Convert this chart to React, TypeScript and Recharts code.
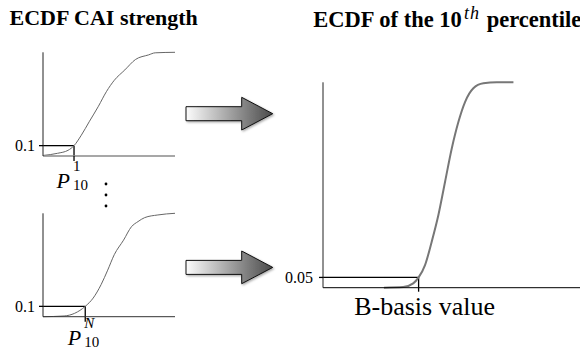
import React from 'react';
import { LineChart, Line, XAxis, YAxis, ReferenceLine } from 'recharts';

const SERIF = '"Liberation Serif", "Times New Roman", serif';

// ECDF of CAI strength, first batch (strength in arbitrary units, 0..100)
const strengthFirst = [0, 11, 19, 23.5, 29, 35, 42, 48, 54, 62, 70, 80, 85, 100];
const ecdfFirst = [0.005, 0.026, 0.055, 0.1, 0.2, 0.33, 0.48, 0.62, 0.73, 0.83, 0.93, 0.975, 0.995, 1];
const p10First = 23.5;

// ECDF of CAI strength, N-th batch
const strengthLast = [0, 16, 24, 32, 38, 44, 49, 54, 61, 67, 72, 77, 87, 100];
const ecdfLast = [0, 0.007, 0.033, 0.1, 0.18, 0.31, 0.45, 0.6, 0.74, 0.87, 0.92, 0.958, 0.984, 1];
const p10Last = 32;

// ECDF of the 10th percentile estimates
const percentileValues = [23.7, 31.2, 35.1, 37.2, 39.7, 42.3, 44.9, 47.5, 50.1, 52.7, 55.3, 58.5, 62.4, 67.6, 74.1];
const ecdfPercentile = [0, 0.003, 0.021, 0.05, 0.11, 0.224, 0.354, 0.516, 0.678, 0.808, 0.905, 0.971, 0.995, 1, 1];
const bBasisValue = 37.2;

const strengthLevel = 0.1;
const bBasisLevel = 0.05;

const leftTitle = 'ECDF CAI strength';

const toRows = (xs: number[], ys: number[]) => xs.map((x, i) => ({ x, p: ys[i] }));

const rowsFirst = toRows(strengthFirst, ecdfFirst);
const rowsLast = toRows(strengthLast, ecdfLast);
const rowsPercentile = toRows(percentileValues, ecdfPercentile);

// P_{10}^{sup} label drawn under the x-axis tick
const percentileTick = (sup: string, dyP: number, italicSup: boolean) => (props: any) => {
  const { x, y } = props;
  return (
    <g>
      <text x={x - 17.5} y={y + dyP} fontFamily={SERIF} fontStyle="italic" fontSize={22} fill="#000">P</text>
      <text x={x - 1} y={y + dyP - 17} fontFamily={SERIF} fontStyle={italicSup ? 'italic' : 'normal'} fontSize={15} fill="#000">{sup}</text>
      <text x={x - 1} y={y + dyP + 2} fontFamily={SERIF} fontSize={15} fill="#000">10</text>
    </g>
  );
};

const bBasisTick = (props: any) => (
  <text x={props.x + 6} y={props.y + 21} textAnchor="middle" fontFamily={SERIF} fontSize={26} fill="#000">
    B-basis value
  </text>
);

const yTickStyle = { fill: '#000', fontSize: 16, fontFamily: SERIF };

type PanelProps = {
  rows: { x: number; p: number }[];
  p10: number;
  level: number;
  width: number;
  height: number;
  top: number;
  right: number;
  xAxisHeight: number;
  xAxisColor: string;
  xAxisWidth: number;
  tick: (props: any) => React.ReactElement;
  tickSize: number;
  yTickMargin: number;
  curveColor: string;
  curveWidth: number;
};

function EcdfPanel(p: PanelProps) {
  return (
    <LineChart
      width={p.width}
      height={p.height}
      data={p.rows}
      margin={{ top: p.top, right: p.right, bottom: 0, left: 3 }}
    >
      <XAxis
        dataKey="x"
        type="number"
        domain={[0, 100]}
        allowDataOverflow
        ticks={[p.p10]}
        interval={0}
        height={p.xAxisHeight}
        axisLine={{ stroke: p.xAxisColor, strokeWidth: p.xAxisWidth }}
        tickLine={{ stroke: '#000', strokeWidth: 1.3 }}
        tickSize={p.tickSize}
        tick={p.tick}
      />
      <YAxis
        type="number"
        domain={[0, 1]}
        ticks={[p.level]}
        interval={0}
        width={40}
        axisLine={{ stroke: '#222', strokeWidth: 1 }}
        tickLine={{ stroke: '#000', strokeWidth: 1.3 }}
        tickSize={4}
        tickMargin={p.yTickMargin}
        tick={yTickStyle}
        tickFormatter={(v: number) => String(v)}
      />
      <ReferenceLine
        segment={[{ x: 0, y: p.level }, { x: p.p10, y: p.level }]}
        stroke="#000"
        strokeWidth={1.3}
      />
      <ReferenceLine
        segment={[{ x: p.p10, y: 0 }, { x: p.p10, y: p.level }]}
        stroke="#000"
        strokeWidth={1.3}
      />
      <Line
        dataKey="p"
        type="monotone"
        stroke={p.curveColor}
        strokeWidth={p.curveWidth}
        dot={false}
        activeDot={false}
        isAnimationActive={false}
      />
    </LineChart>
  );
}

// Block arrow pointing from the batch ECDFs to the percentile ECDF
function BlockArrow({ dy }: { dy: number }) {
  const d = `M186,${106.7 + dy} L241.7,${106.7 + dy} L241.7,${97.3 + dy} L272.7,${113.7 + dy} L241.7,${130 + dy} L241.7,${120.7 + dy} L186,${120.7 + dy} Z`;
  return <path d={d} fill="url(#arrowFill)" stroke="#111" strokeWidth={1} filter="url(#arrowShadow)" />;
}

export default function App() {
  return (
    <div style={{ position: 'absolute', left: 0, top: 0, width: 580, height: 349, background: '#fff', overflow: 'hidden' }}>
      <svg width={580} height={349} style={{ position: 'absolute', left: 0, top: 0 }}>
        <defs>
          <linearGradient id="arrowFill" x1="0" y1="0" x2="1" y2="0">
            <stop offset="0" stopColor="#fcfcfc" />
            <stop offset="1" stopColor="#4a4a4a" />
          </linearGradient>
          <filter id="arrowShadow" x="-10%" y="-20%" width="130%" height="150%">
            <feDropShadow dx="1.2" dy="1.2" stdDeviation="0.8" floodColor="#000" floodOpacity="0.35" />
          </filter>
        </defs>
        <text x={9.5} y={24.5} fontFamily={SERIF} fontWeight="bold" fontSize={22} fill="#000">{leftTitle}</text>
        <text x={313.3} y={27.3} fontFamily={SERIF} fontWeight="bold" fontSize={22.5} fill="#000">ECDF of the 10</text>
        <text x={464} y={18.5} fontFamily={SERIF} fontStyle="italic" fontSize={18} letterSpacing={1} fill="#000">th</text>
        <text x={486.7} y={27.3} fontFamily={SERIF} fontWeight="bold" fontSize={22.5} fill="#000">percentile</text>
        <BlockArrow dy={0} />
        <BlockArrow dy={153.7} />
        <circle cx={106} cy={184} r={1.4} fill="#000" />
        <circle cx={106} cy={195} r={1.4} fill="#000" />
        <circle cx={106} cy={206} r={1.4} fill="#000" />
      </svg>

      <div style={{ position: 'absolute', left: 0, top: 40 }}>
        <EcdfPanel
          rows={rowsFirst}
          p10={p10First}
          level={strengthLevel}
          width={185}
          height={156}
          top={12.3}
          right={10}
          xAxisHeight={40}
          xAxisColor="#8a8a8a"
          xAxisWidth={1.6}
          tick={percentileTick('1', 25, false)}
          tickSize={5}
          yTickMargin={4}
          curveColor="#666"
          curveWidth={1}
        />
      </div>

      <div style={{ position: 'absolute', left: 0, top: 200 }}>
        <EcdfPanel
          rows={rowsLast}
          p10={p10Last}
          level={strengthLevel}
          width={185}
          height={149}
          top={13.3}
          right={10}
          xAxisHeight={32.3}
          xAxisColor="#333"
          xAxisWidth={1}
          tick={percentileTick('N', 21, true)}
          tickSize={5}
          yTickMargin={4}
          curveColor="#666"
          curveWidth={1}
        />
      </div>

      <div style={{ position: 'absolute', left: 280, top: 70 }}>
        <EcdfPanel
          rows={rowsPercentile}
          p10={bBasisValue}
          level={bBasisLevel}
          width={300}
          height={270}
          top={12.3}
          right={0}
          xAxisHeight={52.3}
          xAxisColor="#000"
          xAxisWidth={1}
          tick={bBasisTick}
          tickSize={4}
          yTickMargin={6}
          curveColor="#777"
          curveWidth={2}
        />
      </div>
    </div>
  );
}
